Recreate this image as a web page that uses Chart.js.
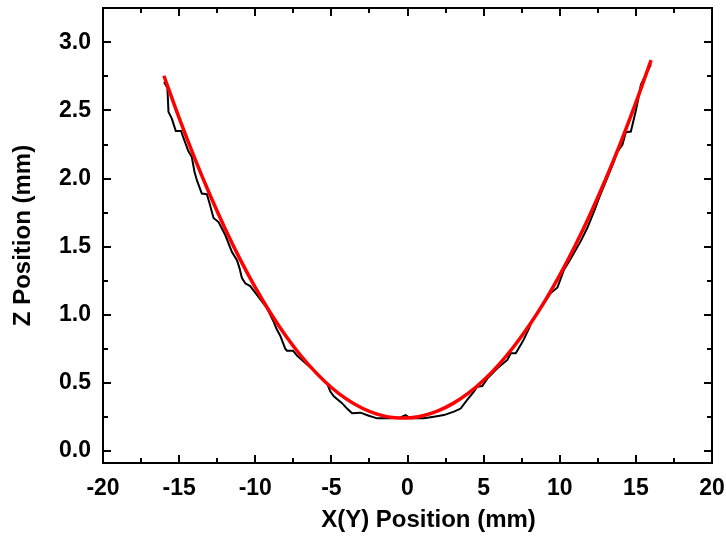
<!DOCTYPE html>
<html>
<head>
<meta charset="utf-8">
<script src="https://cdn.jsdelivr.net/npm/chart.js@4.4.1/dist/chart.umd.min.js"></script>
<style>
  body { margin: 0; background: #fff; }
  #wrap { width: 726px; height: 538px; }
</style>
</head>
<body>
<div id="wrap"><canvas id="profileChart" width="726" height="538"></canvas></div>
<script>
// measured profile (black)
const measX = [-15.99, -15.77, -15.70, -15.48, -15.22, -14.87, -14.72, -14.39, -14.17, -13.99,
  -13.84, -13.51, -13.18, -13.03, -12.74, -12.41, -11.97, -11.53, -11.20, -11.03,
  -10.88, -10.66, -10.33, -9.89, -9.24, -8.80, -8.62, -8.36, -8.03, -7.92,
  -7.52, -7.26, -6.82, -6.16, -5.51, -5.28, -5.07, -4.84, -4.30, -3.97,
  -3.64, -3.09, -2.54, -1.99, -1.12, -0.46, -0.13, 0.20, 1.07, 1.73,
  2.39, 3.05, 3.49, 3.92, 4.36, 4.58, 4.91, 5.24, 5.90, 6.56,
  6.78, 7.11, 7.43, 7.65, 7.98, 8.20, 8.53, 9.41, 9.85, 10.28,
  10.72, 11.38, 11.82, 12.26, 12.59, 12.92, 13.47, 13.80, 14.12, 14.34,
  14.67, 15.00, 15.22, 15.33, 15.60, 15.99];
const measZ = [2.71, 2.665, 2.49, 2.44, 2.35, 2.35, 2.30, 2.20, 2.16, 2.05,
  1.99, 1.89, 1.885, 1.83, 1.71, 1.68, 1.585, 1.46, 1.40, 1.34,
  1.27, 1.23, 1.21, 1.145, 1.05, 0.95, 0.90, 0.845, 0.75, 0.735,
  0.735, 0.70, 0.655, 0.59, 0.52, 0.495, 0.435, 0.40, 0.35, 0.31,
  0.275, 0.28, 0.257, 0.238, 0.238, 0.245, 0.262, 0.238, 0.238, 0.25,
  0.262, 0.287, 0.31, 0.373, 0.434, 0.47, 0.476, 0.53, 0.606, 0.667,
  0.716, 0.716, 0.777, 0.82, 0.90, 0.96, 1.01, 1.16, 1.20, 1.33,
  1.41, 1.54, 1.64, 1.76, 1.86, 1.95, 2.10, 2.20, 2.25, 2.34,
  2.345, 2.50, 2.62, 2.69, 2.75, 2.84];

// fitted curve (red)
const fitX = [-16, -15, -14, -13, -12, -11, -10, -9, -8, -7, -6, -5, -4, -3, -2, -1, 0,
  1, 2, 3, 4, 5, 6, 7, 8, 9, 10, 11, 12, 13, 14, 15, 16];
const fitZ = [2.755, 2.445, 2.155, 1.886, 1.637, 1.408, 1.200, 1.012, 0.845, 0.698, 0.572, 0.465, 0.379, 0.314, 0.2695, 0.245, 0.241,
  0.257, 0.293, 0.348, 0.423, 0.518, 0.633, 0.768, 0.922, 1.096, 1.290, 1.504, 1.738, 1.991, 2.264, 2.557, 2.870];

const xTicks = [-20, -15, -10, -5, 0, 5, 10, 15, 20];
const yTicks = [0.0, 0.5, 1.0, 1.5, 2.0, 2.5, 3.0];

const xTitle = "X(Y) Position (mm)";
const yTitle = "Z Position (mm)";

function toPoints(xs, ys) {
  return xs.map((x, i) => ({ x: x, y: ys[i] }));
}

function midpoints(values) {
  const mids = [];
  for (let i = 0; i < values.length - 1; i++) {
    mids.push((values[i] + values[i + 1]) / 2);
  }
  return mids;
}

const labelFont = "bold 24px 'Liberation Sans', Arial, sans-serif";

// box frame, inward ticks on all four sides, axis titles
const frameTicks = {
  id: "frameTicks",
  afterDraw(chart) {
    const { ctx, chartArea: a, scales } = chart;
    const sx = scales.x;
    const sy = scales.y;
    ctx.save();
    ctx.strokeStyle = "#000";
    ctx.lineWidth = 2;
    ctx.strokeRect(a.left, a.top, a.right - a.left, a.bottom - a.top);

    ctx.beginPath();
    const drawX = (vals, len) => {
      vals.forEach((v) => {
        const px = Math.round(sx.getPixelForValue(v));
        ctx.moveTo(px, a.bottom);
        ctx.lineTo(px, a.bottom - len);
        ctx.moveTo(px, a.top);
        ctx.lineTo(px, a.top + len);
      });
    };
    const drawY = (vals, len) => {
      vals.forEach((v) => {
        const py = Math.round(sy.getPixelForValue(v));
        ctx.moveTo(a.left, py);
        ctx.lineTo(a.left + len, py);
        ctx.moveTo(a.right, py);
        ctx.lineTo(a.right - len, py);
      });
    };
    drawX(xTicks, 8);
    drawX(midpoints(xTicks), 5);
    drawY(yTicks, 8);
    drawY(midpoints(yTicks), 5);
    ctx.stroke();

    ctx.fillStyle = "#000";
    ctx.font = labelFont;
    ctx.textAlign = "center";
    ctx.textBaseline = "middle";
    ctx.fillText(xTitle, (a.left + a.right) / 2 + 21, 520);
    ctx.translate(23, (a.top + a.bottom) / 2);
    ctx.rotate(-Math.PI / 2);
    ctx.fillText(yTitle, 0, 0);
    ctx.restore();
  },
};

function drawProfileChart() {
  const ctx = document.getElementById("profileChart");

  new Chart(ctx, {
    type: "scatter",
    data: {
      datasets: [
        {
          label: "Fit",
          data: toPoints(fitX, fitZ),
          showLine: true,
          borderColor: "#ff0000",
          borderWidth: 3.5,
          pointRadius: 0,
          cubicInterpolationMode: "monotone",
          order: 0,
        },
        {
          label: "Measured",
          data: toPoints(measX, measZ),
          showLine: true,
          borderColor: "#000000",
          borderWidth: 2,
          pointRadius: 0,
          tension: 0,
          order: 1,
        },
      ],
    },
    options: {
      responsive: false,
      animation: false,
      layout: {
        padding: { left: 0, top: 8, right: 14, bottom: 0 },
      },
      plugins: {
        legend: { display: false },
        tooltip: { enabled: false },
      },
      scales: {
        x: {
          type: "linear",
          min: -20,
          max: 20,
          border: { display: false },
          grid: { display: false, drawTicks: false },
          afterBuildTicks: (scale) => {
            scale.ticks = xTicks.map((v) => ({ value: v }));
          },
          afterFit: (scale) => {
            scale.height = 75;
            scale.paddingLeft = 0;
            scale.paddingRight = 0;
          },
          ticks: {
            padding: 12,
            color: "#000",
            font: { family: "'Liberation Sans', Arial, sans-serif", size: 23, weight: "bold" },
            callback: (v) => String(v),
          },
        },
        y: {
          type: "linear",
          min: -0.09,
          max: 3.253,
          border: { display: false },
          grid: { display: false, drawTicks: false },
          afterBuildTicks: (scale) => {
            scale.ticks = yTicks.map((v) => ({ value: v }));
          },
          afterFit: (scale) => {
            scale.width = 103;
            scale.paddingTop = 0;
            scale.paddingBottom = 0;
          },
          ticks: {
            padding: 12,
            color: "#000",
            font: { family: "'Liberation Sans', Arial, sans-serif", size: 23, weight: "bold" },
            callback: (v) => Number(v).toFixed(1),
          },
        },
      },
    },
    plugins: [frameTicks],
  });
}

drawProfileChart();
</script>
</body>
</html>
